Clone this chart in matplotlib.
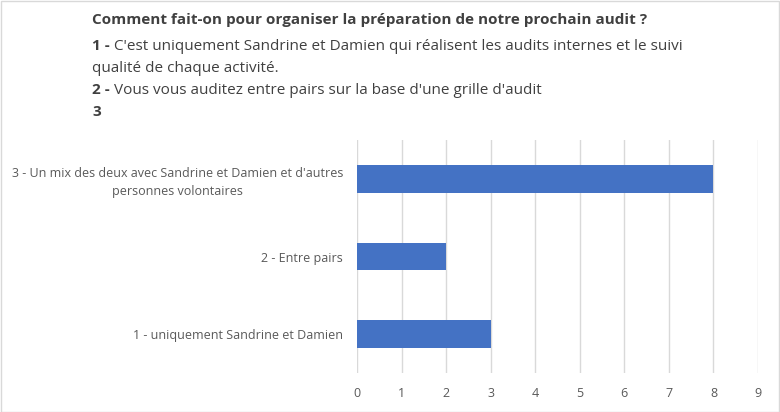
import matplotlib
matplotlib.use("Agg")
import matplotlib.pyplot as plt
from matplotlib.patches import Rectangle

plt.rcParams['font.family'] = ['Open Sans', 'DejaVu Sans']

categories = ["1 - uniquement Sandrine et Damien",
              "2 - Entre pairs",
              "3 - Un mix des deux avec Sandrine et Damien et d'autres\npersonnes volontaires"]
values = [3, 2, 8]
xticks = list(range(0, 10))

title_bold = "Comment fait-on pour organiser la préparation de notre prochain audit ?"
lines = [("1 -", " C'est uniquement Sandrine et Damien qui réalisent les audits internes et le suivi"),
         ("", "qualité de chaque activité."),
         ("2 -", " Vous vous auditez entre pairs sur la base d'une grille d'audit"),
         ("3", "")]

fig = plt.figure(figsize=(7.8, 4.12), dpi=100)
fig.patches.append(Rectangle((0.5/780, 0.5/412), 1 - 1.5/780, 1 - 1.5/412,
                             transform=fig.transFigure, fill=False,
                             edgecolor='#D9D9D9', linewidth=1))

ax = fig.add_axes([357/780, 1 - 373/412, 401/780, 233/412])
ypos = list(range(len(categories)))
ax.barh(ypos, values, height=0.36, color='#4472C4', zorder=3)
ax.set_xlim(0, 9)
ax.set_ylim(-0.5, 2.5)
ax.set_xticks(xticks)
ax.set_yticks(ypos)
ax.set_yticklabels(categories, fontsize=9, color='#595959')
ax.tick_params(axis='y', length=0, pad=10)
for lbl in ax.get_yticklabels():
    lbl.set_multialignment('center')
    lbl.set_linespacing(1.45)
ax.tick_params(axis='x', length=0, labelsize=9, labelcolor='#595959', pad=10)
ax.grid(axis='x', color='#D9D9D9', linewidth=1, zorder=0)
for s in ax.spines.values():
    s.set_visible(False)

fig.text(92/780, 1 - 20/412, title_bold, fontsize=11, fontweight='bold',
         color='#404040', va='center', ha='left')
y0 = 46
for b, r in lines:
    yy = 1 - y0/412
    if b:
        t = fig.text(92/780, yy, b, fontsize=11, fontweight='bold', color='#404040',
                     va='center', ha='left')
        if r:
            ax.annotate(r, xy=(1, 0.5), xycoords=t, va='center', ha='left',
                        fontsize=11, color='#404040', annotation_clip=False)
    else:
        fig.text(92/780, yy, r, fontsize=11, color='#404040', va='center', ha='left')
    y0 += 22

fig.savefig("out.png", dpi=100)
